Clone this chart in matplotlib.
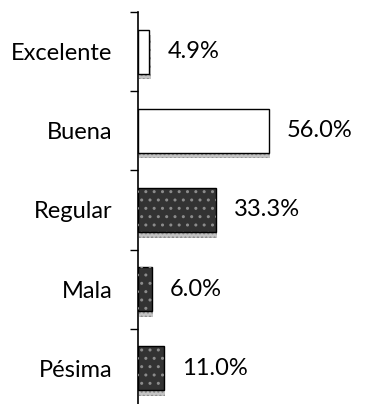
import numpy as np
import matplotlib
matplotlib.use("Agg")
import matplotlib.pyplot as plt

plt.rcParams['font.family'] = ['Lato', 'DejaVu Sans']
plt.rcParams['hatch.linewidth'] = 1.0

# calificación del servicio (porcentaje de respuestas)
categorias = ["Excelente", "Buena", "Regular", "Mala", "Pésima"]
porcentajes = [4.9, 56.0, 33.3, 6.0, 11.0]
etiquetas = ["4.9%", "56.0%", "33.3%", "6.0%", "11.0%"]

relleno = ["white", "white", "#333333", "#333333", "#333333"]
textura = [False, False, True, True, True]

fig = plt.figure(figsize=(3.72, 4.04), dpi=100)
ax = fig.add_axes([138 / 372, -4 / 404, 234 / 372, 396 / 404])

y = np.arange(len(categorias))
alto = 0.555

# sombra bajo cada barra
ax.barh(y + 0.07, porcentajes, height=alto, left=0.6, color="#c4c4c4",
        edgecolor="none", zorder=1)
ax.barh(y + 0.07, porcentajes, height=alto, left=0.6, color="none",
        edgecolor="#8a8a8a", linewidth=0, hatch="....", zorder=1)

ax.barh(y, porcentajes, height=alto, color=relleno, edgecolor="black",
        linewidth=1.0, zorder=2)
for yi, v, t in zip(y, porcentajes, textura):
    if t:
        ax.barh(yi, v, height=alto, color="none", edgecolor="#8c8c8c",
                linewidth=0, hatch="..", zorder=3)

for yi, v, txt in zip(y, porcentajes, etiquetas):
    ax.annotate(txt, (v, yi), xytext=(13, 0), textcoords="offset points",
                ha="left", va="center", fontsize=17, color="black")

ax.set_xlim(0, 100)
ax.set_ylim(len(categorias) - 0.5, -0.5)
ax.set_yticks(y)
ax.set_yticklabels(categorias, fontsize=17)
ax.set_yticks(np.arange(len(categorias) + 1) - 0.5, minor=True)
ax.tick_params(axis="y", which="major", length=0, pad=18.5)
ax.tick_params(axis="y", which="minor", length=5.5, width=1.0, direction="out")
ax.set_xticks([])
for s in ["top", "right", "bottom"]:
    ax.spines[s].set_visible(False)
ax.spines["left"].set_linewidth(1.2)
ax.patch.set_alpha(0)

fig.savefig("out.png", dpi=100)
